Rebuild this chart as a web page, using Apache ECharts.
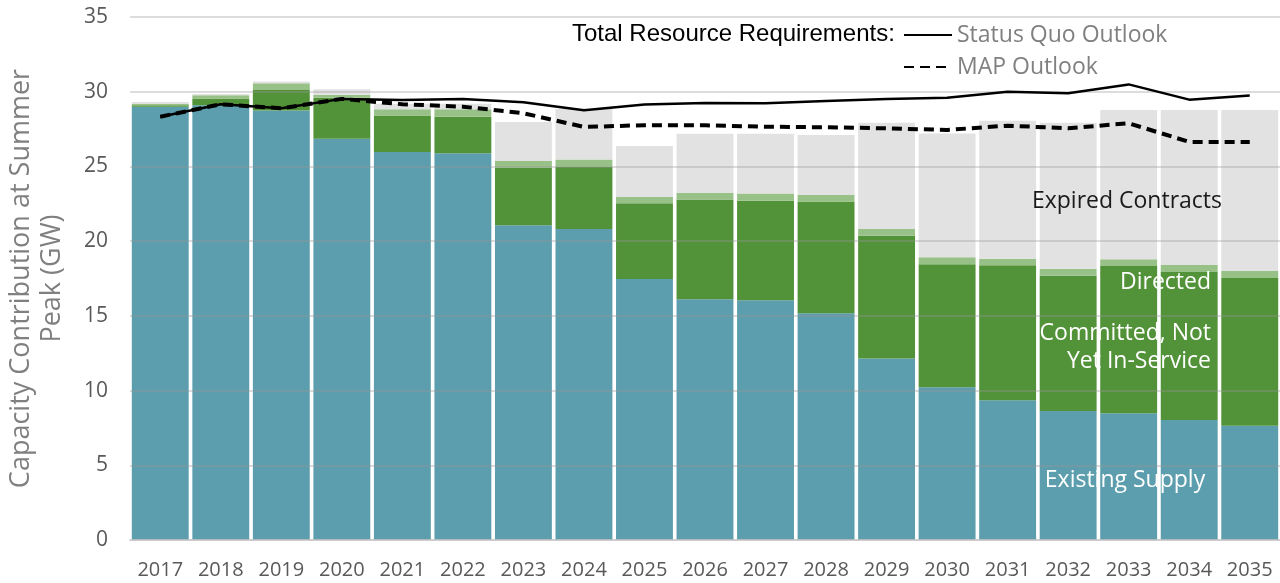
<!DOCTYPE html>
<html>
<head>
<meta charset="utf-8">
<script src="https://cdn.jsdelivr.net/npm/echarts@6/dist/echarts.min.js"></script>
<style>
html,body{margin:0;padding:0;background:#fff;}
#chart{width:1280px;height:583px;}
</style>
</head>
<body>
<div id="chart"></div>
<script>
var years = ['2017','2018','2019','2020','2021','2022','2023','2024','2025','2026','2027','2028','2029','2030','2031','2032','2033','2034','2035'];
var existingSupply = [29.0, 29.1, 28.75, 26.85, 25.97, 25.88, 21.06, 20.82, 17.47, 16.11, 16.04, 15.17, 12.14, 10.22, 9.35, 8.63, 8.48, 8.03, 7.65];
var committedNotInService = [0.1, 0.44, 1.37, 2.75, 2.43, 2.45, 3.86, 4.17, 5.06, 6.67, 6.67, 7.48, 8.22, 8.23, 9.03, 9.06, 9.86, 9.91, 9.89];
var directed = [0.08, 0.23, 0.45, 0.19, 0.43, 0.5, 0.45, 0.48, 0.43, 0.45, 0.47, 0.44, 0.45, 0.47, 0.45, 0.47, 0.45, 0.47, 0.46];
var expiredContracts = [0.14, 0.08, 0.11, 0.38, 0.37, 0.37, 2.61, 3.38, 3.41, 3.95, 4.0, 4.02, 7.12, 8.28, 9.23, 9.77, 9.99, 10.37, 10.78];
var statusQuoOutlook = [28.33, 29.16, 28.89, 29.52, 29.45, 29.52, 29.3, 28.76, 29.14, 29.24, 29.23, 29.38, 29.51, 29.6, 30.0, 29.89, 30.49, 29.47, 29.74];
var mapOutlook = [28.33, 29.16, 28.89, 29.52, 29.16, 29.0, 28.56, 27.64, 27.76, 27.75, 27.66, 27.62, 27.55, 27.44, 27.73, 27.55, 27.89, 26.64, 26.64];
var yTicks = [0, 5, 10, 15, 20, 25, 30, 35];

var FONT = 'Open Sans';
var chart = echarts.init(document.getElementById('chart'), null, {renderer: 'canvas'});
var barBase = {type: 'bar', stack: 'cap', barCategoryGap: '6%', z: 2};
chart.setOption({
  animation: false,
  backgroundColor: '#ffffff',
  grid: {left: 130, right: 0, top: 17, bottom: 43, containLabel: false, outerBoundsMode: 'none'},
  legend: {
    data: [{name: 'Status Quo Outlook'}, {name: 'MAP Outlook'}],
    orient: 'vertical',
    left: 898,
    top: 17,
    itemWidth: 48,
    itemHeight: 14,
    itemGap: 6,
    itemStyle: {opacity: 0},
    textStyle: {fontFamily: FONT, fontSize: 23, color: '#808080', lineHeight: 26}
  },
  xAxis: {
    type: 'category',
    data: years,
    axisLine: {show: true, lineStyle: {color: '#c8c8c8', width: 1.5}},
    axisTick: {show: false},
    axisLabel: {fontFamily: FONT, fontSize: 20, color: '#595959', margin: 20, interval: 0},
    z: 6
  },
  yAxis: {
    type: 'value',
    min: yTicks[0],
    max: yTicks[yTicks.length - 1],
    interval: 5,
    axisLine: {show: false},
    axisTick: {show: false},
    axisLabel: {fontFamily: FONT, fontSize: 21, color: '#595959', margin: 22},
    splitLine: {show: true, lineStyle: {color: 'rgba(150,150,150,0.45)', width: 1.5}},
    name: 'Capacity Contribution at Summer\nPeak (GW)',
    nameLocation: 'middle',
    nameRotate: 90,
    nameGap: 62,
    nameTextStyle: {fontFamily: FONT, fontSize: 27, color: '#808080', lineHeight: 31, align: 'center'},
    z: 5
  },
  series: [
    Object.assign({}, barBase, {name: 'Existing Supply', data: existingSupply, itemStyle: {color: '#5c9ead'}}),
    Object.assign({}, barBase, {name: 'Committed, Not Yet In-Service', data: committedNotInService, itemStyle: {color: '#529238'}}),
    Object.assign({}, barBase, {name: 'Directed', data: directed, itemStyle: {color: '#98c188'}}),
    Object.assign({}, barBase, {name: 'Expired Contracts', data: expiredContracts, itemStyle: {color: '#e2e2e2'}}),
    {type: 'line', name: 'Status Quo Outlook', data: statusQuoOutlook, symbol: 'none', z: 10,
     lineStyle: {color: '#000000', width: 2.5, type: 'solid'}, itemStyle: {color: '#000000'}},
    {type: 'line', name: 'MAP Outlook', data: mapOutlook, symbol: 'none', z: 11,
     lineStyle: {color: '#000000', width: 4, type: [10, 6]}, itemStyle: {color: '#000000'}}
  ],
  graphic: [
    {type: 'text', left: 572, top: 22, z: 20,
     style: {text: 'Total Resource Requirements:', font: '24px "Liberation Sans", Arial, sans-serif', fill: '#000000'}},
    {type: 'text', x: 1127, y: 201, z: 20,
     style: {text: 'Expired Contracts', fontFamily: FONT, fontSize: 23, fill: '#1a1a1a', align: 'center', verticalAlign: 'middle'}},
    {type: 'text', x: 1211, y: 282, z: 20,
     style: {text: 'Directed', fontFamily: FONT, fontSize: 23, fill: '#ffffff', align: 'right', verticalAlign: 'middle'}},
    {type: 'text', x: 1211, y: 347, z: 20,
     style: {text: 'Committed, Not\nYet In-Service', fontFamily: FONT, fontSize: 23, lineHeight: 28, fill: '#ffffff', align: 'right', verticalAlign: 'middle'}},
    {type: 'text', x: 1125, y: 480, z: 20,
     style: {text: 'Existing Supply', fontFamily: FONT, fontSize: 23, fill: '#ffffff', align: 'center', verticalAlign: 'middle'}}
  ]
});
</script>
</body>
</html>
